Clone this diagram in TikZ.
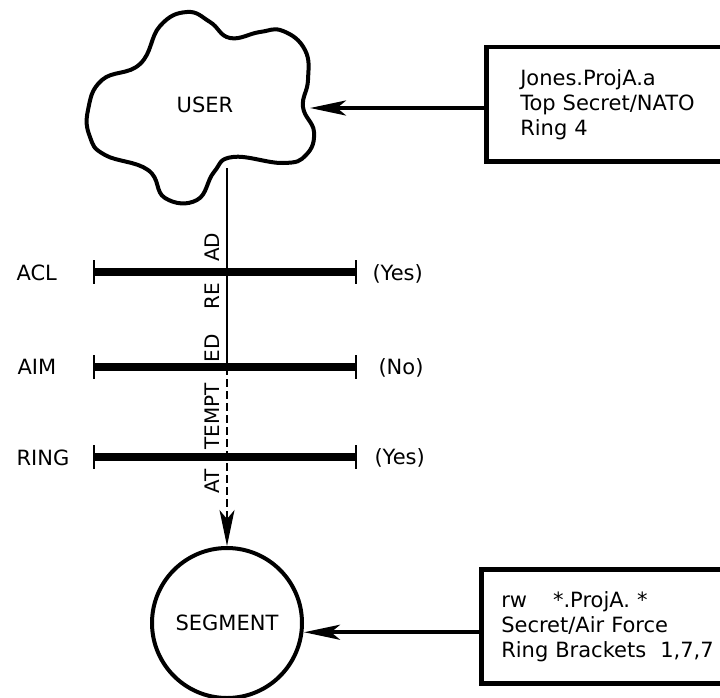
\documentclass[tikz,border=0pt]{standalone}
\usepackage{fontspec}
\setmainfont{DejaVu Sans}
\usetikzlibrary{arrows.meta}

\begin{document}
\begin{tikzpicture}[x=1pt, y=-1pt, font=\fontsize{21}{25}\selectfont,
  heavy/.style={line width=4pt},
  infobox/.style={draw, line width=4.5pt, rectangle, anchor=north west, align=left,
    minimum height=114pt, inner ysep=0pt},
  barline/.style={line width=8pt},
  barend/.style={line width=2pt},
  tip/.style={-{Stealth[length=36pt, width=15pt, inset=9pt]}}]
\useasboundingbox (0,0) rectangle (720,698);
\clip (0,0) rectangle (720,698);
% user cloud and its label
\draw[heavy] plot[smooth cycle, tension=0.75] coordinates {
  (88,110) (102,80) (140,64) (160,26) (187,12) (210,22) (230,38) (260,32)
  (283,31) (305,50) (308,80) (303,107) (314,132) (306,155) (283,163) (233,157)
  (214,172) (197,200) (165,198) (148,170) (105,155) (90,137)};
\node (user) at (205,105) {USER};
\coordinate (cloudtip) at (310,108);
\coordinate (cloudfoot) at (227,168);
% access boxes
\node[infobox, text width=222pt, inner xsep=34pt] (userbox) at (484,45)
  {Jones.ProjA.a\\Top Secret/NATO\\Ring 4};
\node[infobox, text width=240pt, inner xsep=20pt] (segbox) at (479,567)
  {rw\hspace{26pt}*.ProjA.\ *\\Secret/Air Force\\Ring Brackets\hspace{14pt}1,7,7};
\node[draw, circle, heavy, minimum size=150pt, inner sep=0pt] (segment) at (227,623) {SEGMENT};
% check bars
\node[anchor=west] (acl) at (13,273) {ACL};
\node[anchor=west] (aim) at (14,367) {AIM};
\node[anchor=west] (ring) at (13,458) {RING};
\coordinate (aclL) at (94,272);  \coordinate (aclR) at (356,272);
\coordinate (aimL) at (94,367);  \coordinate (aimR) at (356,367);
\coordinate (ringL) at (94,457); \coordinate (ringR) at (356,457);
\draw[barline] (aclL) -- (aclR);
\draw[barline] (aimL) -- (aimR);
\draw[barline] (ringL) -- (ringR);
\draw[barend] ([yshift=12pt]aclL) -- ([yshift=-12pt]aclL);
\draw[barend] ([yshift=12pt]aclR) -- ([yshift=-12pt]aclR);
\draw[barend] ([yshift=12pt]aimL) -- ([yshift=-12pt]aimL);
\draw[barend] ([yshift=12pt]aimR) -- ([yshift=-12pt]aimR);
\draw[barend] ([yshift=12pt]ringL) -- ([yshift=-12pt]ringL);
\draw[barend] ([yshift=12pt]ringR) -- ([yshift=-12pt]ringR);
\node[anchor=west] (aclans) at (369,274) {(Yes)};
\node[anchor=west] (aimans) at (375,368) {(No)};
\node[anchor=west] (ringans) at (371,458) {(Yes)};
% read path
\node[rotate=90, inner sep=0pt, font=\fontsize{20}{24}\selectfont] (readlabel) at (212,363)
  {AT\hspace{19pt}TEMPT\hspace{21pt}ED\hspace{25pt}RE\hspace{21pt}AD};
\draw[line width=1.5pt] (cloudfoot) -- (cloudfoot |- aimL);
\draw[line width=1.5pt, dash pattern=on 8pt off 4pt, tip] (cloudfoot |- aimL) -- (segment.north);
% connectors
\draw[heavy, tip] (cloudtip -| userbox.west) -- (cloudtip);
\draw[heavy, tip] ([yshift=-6pt]segbox.west) -- ([yshift=-6pt]segbox.west -| segment.east);
\end{tikzpicture}
\end{document}
